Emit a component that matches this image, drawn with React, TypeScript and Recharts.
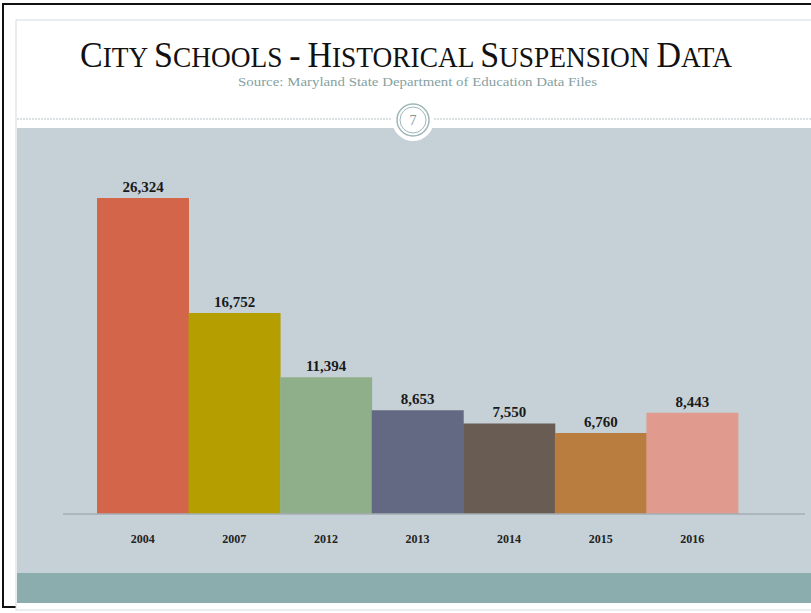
import { BarChart, Bar, XAxis, YAxis, Cell, LabelList } from 'recharts'

const years = ['2004', '2007', '2012', '2013', '2014', '2015', '2016']
const suspensions = [26324, 16752, 11394, 8653, 7550, 6760, 8443]
const barColors = ['#d2654a', '#b59e00', '#8faf8a', '#636983', '#695c53', '#b97d40', '#e09a8e']

const data = years.map((year, i) => ({ year, count: suspensions[i] }))

const serif = '"Liberation Serif", "DejaVu Serif", serif'

// small caps built by hand: first letter of each word large, rest smaller
function SmallCaps({ text, big, small }: { text: string; big: number; small: number }) {
  const parts: JSX.Element[] = []
  text.split(' ').forEach((word, wi) => {
    if (wi > 0) parts.push(<tspan key={'s' + wi} fontSize={small}>{' '}</tspan>)
    parts.push(<tspan key={'b' + wi} fontSize={big}>{word[0].toUpperCase()}</tspan>)
    if (word.length > 1) parts.push(<tspan key={'r' + wi} fontSize={small}>{word.slice(1).toUpperCase()}</tspan>)
  })
  return <>{parts}</>
}

export default function App() {
  return (
    <div style={{ position: 'absolute', left: 0, top: 0, width: 811, height: 613, background: '#fff', overflow: 'hidden' }}>
      <svg width={811} height={613} style={{ position: 'absolute', left: 0, top: 0 }}>
        {/* outer black frame */}
        <rect x={3} y={4} width={820} height={603} fill="none" stroke="#111" strokeWidth={2} />
        {/* inner slide frame */}
        <rect x={16} y={20} width={810} height={590} fill="#fff" stroke="#d5dcdf" strokeWidth={1} />
        {/* gray panel */}
        <rect x={17} y={128} width={800} height={445} fill="#c6d1d7" />
        {/* teal band */}
        <rect x={17} y={573} width={800} height={30} fill="#8cadad" />
        {/* dashed divider */}
        <line x1={17} y1={119} x2={811} y2={119} stroke="#b9c3c7" strokeDasharray="2 1" />
        <rect x={17} y={120} width={800} height={8} fill="#fff" />
        <circle cx={413} cy={120} r={21} fill="#fff" />
        <circle cx={413} cy={120} r={16} fill="#fff" stroke="#9fb7b7" strokeWidth={1.5} />
        <circle cx={413} cy={120} r={13} fill="none" stroke="#9fb7b7" strokeWidth={1} />
        <text x={413} y={125} textAnchor="middle" fontFamily={serif} fontSize={14} fill="#7f9494">7</text>
        <text x={80} y={67} fontFamily={serif} fill="#111" textLength={652} lengthAdjust="spacingAndGlyphs">
          <SmallCaps text="City Schools - Historical Suspension Data" big={36} small={29} />
        </text>
        <text x={238} y={86} fontFamily={serif} fontSize={12} fill="#86a1a1" textLength={359} lengthAdjust="spacingAndGlyphs">
          Source: Maryland State Department of Education Data Files
        </text>
      </svg>
      <div style={{ position: 'absolute', left: 0, top: 0 }}>
        <BarChart width={811} height={613} data={data} barCategoryGap={0} margin={{ top: 154, right: 6, bottom: 59, left: 63 }}>
          <XAxis
            dataKey="year"
            height={40}
            tickLine={false}
            tickMargin={14}
            axisLine={{ stroke: '#a3adb2', strokeWidth: 1.5 }}
            padding={{ left: 34, right: 67 }}
            tick={{ fontFamily: serif, fontSize: 12, fontWeight: 'bold', fill: '#222' }}
          />
          <YAxis hide domain={[0, 30000]} />
          <Bar dataKey="count" isAnimationActive={false}>
            {data.map((d, i) => (
              <Cell key={d.year} fill={barColors[i]} />
            ))}
            <LabelList
              dataKey="count"
              position="top"
              offset={6}
              formatter={(v: number) => v.toLocaleString('en-US')}
              style={{ fontFamily: serif, fontSize: 15, fontWeight: 'bold', fill: '#1a1a1a' }}
            />
          </Bar>
        </BarChart>
      </div>
    </div>
  )
}
